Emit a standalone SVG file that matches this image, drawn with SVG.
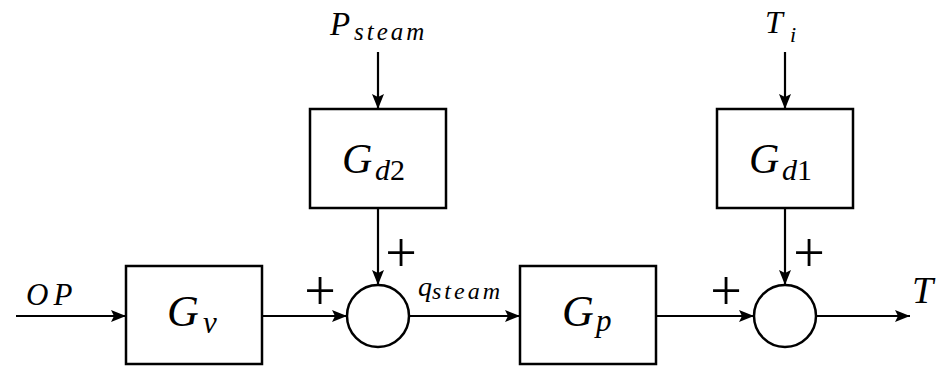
<svg xmlns="http://www.w3.org/2000/svg" width="946" height="366" viewBox="0 0 946 366">
<style>
  .box { fill: #fff; stroke: #000; stroke-width: 2.5; }
  .sum { fill: #fff; stroke: #000; stroke-width: 2.5; }
  .wire { fill: none; stroke: #000; stroke-width: 2.2; marker-end: url(#arr); }
  .m { font-family: "Liberation Serif", "Times New Roman", serif; font-style: italic; fill: #000; }
  .up { font-style: normal; }
  .pl { font-family: "Liberation Serif", "Times New Roman", serif; font-size: 56px; fill: #000; text-anchor: middle; }
</style>
<defs>
  <marker id="arr" markerUnits="userSpaceOnUse" markerWidth="16" markerHeight="12" refX="15" refY="6" orient="auto">
    <path d="M0,0 L15,6 L0,12 L3,6 z" fill="#000"/>
  </marker>
</defs>
<rect width="946" height="366" fill="#fff"/>

<g id="connectors">
  <line class="wire" x1="16" y1="316" x2="126" y2="316"/>
  <line class="wire" x1="262" y1="316" x2="347" y2="316"/>
  <line class="wire" x1="378" y1="52" x2="378" y2="109"/>
  <line class="wire" x1="378" y1="208" x2="378" y2="285"/>
  <line class="wire" x1="409" y1="316" x2="520" y2="316"/>
  <line class="wire" x1="656" y1="316" x2="754" y2="316"/>
  <line class="wire" x1="785" y1="52" x2="785" y2="109"/>
  <line class="wire" x1="785" y1="208" x2="785" y2="285"/>
  <line class="wire" x1="816" y1="316" x2="910" y2="316"/>
</g>

<g id="input-OP">
  <text class="m" x="26" y="305" font-size="31" letter-spacing="5">OP</text>
</g>

<g id="Gv">
  <rect class="box" x="126" y="266" width="136" height="98"/>
  <text class="m" x="167" y="326" font-size="44">G</text>
  <text class="m" x="203" y="333" font-size="31">v</text>
</g>

<g id="Psteam">
  <text class="m" x="330" y="35" font-size="33">P</text>
  <text class="m" x="354" y="40" font-size="25" letter-spacing="3">steam</text>
</g>

<g id="Gd2">
  <rect class="box" x="310" y="109" width="136" height="99"/>
  <text class="m" x="342" y="173" font-size="42">G</text>
  <text class="m" x="375" y="180" font-size="30">d<tspan class="up">2</tspan></text>
</g>

<g id="sum1">
  <circle class="sum" cx="378" cy="316" r="31"/>
  <text class="pl" x="320" y="310">+</text>
  <text class="pl" x="401" y="272">+</text>
</g>

<g id="qsteam">
  <text class="m" x="418" y="296" font-size="28">q</text>
  <text class="m" x="432" y="299" font-size="24" letter-spacing="3">steam</text>
</g>

<g id="Gp">
  <rect class="box" x="520" y="266" width="136" height="98"/>
  <text class="m" x="562" y="326" font-size="44">G</text>
  <text class="m" x="596" y="331" font-size="31">p</text>
</g>

<g id="Ti">
  <text class="m" x="765" y="33" font-size="32">T</text>
  <text class="m" x="790" y="42" font-size="22">i</text>
</g>

<g id="Gd1">
  <rect class="box" x="717" y="109" width="136" height="99"/>
  <text class="m" x="749" y="173" font-size="42">G</text>
  <text class="m" x="782" y="180" font-size="30">d<tspan class="up">1</tspan></text>
</g>

<g id="sum2">
  <circle class="sum" cx="785" cy="316" r="31"/>
  <text class="pl" x="726" y="310">+</text>
  <text class="pl" x="809" y="272">+</text>
</g>

<g id="output-T">
  <text class="m" x="912" y="303" font-size="38">T</text>
</g>
</svg>
